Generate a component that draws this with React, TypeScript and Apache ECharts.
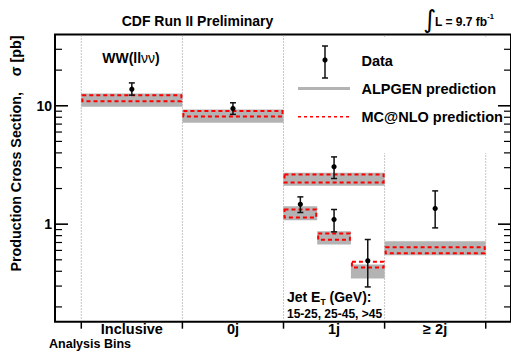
import React, { useEffect, useRef } from "react";
import * as echarts from "echarts";

const FONT = '"Liberation Sans", Arial, Helvetica, sans-serif';

const binNames = ["Inclusive", "0j", "1j", "≥ 2j"];
const binCenters = [0.5, 1.5, 2.5, 3.5];
const binEdges = [0, 1, 2, 3, 4];

// bands: Inclusive, 0j, 1j (all), 1j 15-25, 1j 25-45, 1j >45, >=2j
const bandStart = [0, 1, 2, 2, 2.3333, 2.6667, 3];
const bandEnd = [1, 2, 3, 2.3333, 2.6667, 3, 4];
const alpgenLow = [9.8, 7.18, 2.11, 1.08, 0.673, 0.348, 0.547];
const alpgenHigh = [12.7, 9.32, 2.72, 1.42, 0.873, 0.456, 0.718];
const mcnloLow = [10.7, 7.98, 2.21, 1.117, 0.723, 0.422, 0.558];
const mcnloHigh = [12.5, 9.2, 2.68, 1.357, 0.85, 0.49, 0.652];
const dataValue = [13.8, 9.5, 3.05, 1.47, 1.095, 0.49, 1.357];
const dataLow = [12.3, 8.46, 2.43, 1.255, 0.861, 0.295, 0.93];
const dataHigh = [15.6, 10.6, 3.7, 1.7, 1.33, 0.742, 1.91];

const yMajorTicks = [1, 10];
const yMinorTicks = [0.2, 0.3, 0.4, 0.5, 0.6, 0.7, 0.8, 0.9, 2, 3, 4, 5, 6, 7, 8, 9, 20, 30];
const yMin = 0.15;
const yMax = 40;

export default function App() {
  const ref = useRef<HTMLDivElement>(null);
  useEffect(() => {
    const chart = echarts.init(ref.current!, null, { renderer: "svg" });
    const alpgen = bandStart.map((s, i) => [s, bandEnd[i], alpgenLow[i], alpgenHigh[i]]);
    const mcnlo = bandStart.map((s, i) => [s, bandEnd[i], mcnloLow[i], mcnloHigh[i]]);
    const points = bandStart.map((s, i) => [(s + bandEnd[i]) / 2, dataValue[i], dataLow[i], dataHigh[i]]);
    const yTicks = [
      ...yMajorTicks.map((v) => [0, v, 1]),
      ...yMinorTicks.map((v) => [0, v, 0]),
    ];
    const edges = binEdges.map((b) => [b, 1]);
    const cats = binCenters.map((c, i) => [c, 1, i]);

    const bandRender = (fill: boolean) => (params: any, api: any) => {
      const p1 = api.coord([api.value(0), api.value(3)]);
      const p2 = api.coord([api.value(1), api.value(2)]);
      if (fill) {
        return {
          type: "rect",
          shape: { x: p1[0], y: p1[1], width: p2[0] - p1[0], height: p2[1] - p1[1] },
          style: { fill: "#b3b3b3" },
        };
      }
      return {
        type: "rect",
        shape: { x: p1[0] + 1, y: p1[1] + 1, width: p2[0] - p1[0] - 2, height: p2[1] - p1[1] - 2 },
        style: { fill: "none", stroke: "#ff0000", lineWidth: 2, lineDash: [4, 3] },
      };
    };

    const option: any = {
      animation: false,
      grid: {
        left: 55,
        top: 34.5,
        right: -1,
        bottom: 30.3,
        show: true,
        borderColor: "#000",
        borderWidth: 2,
        backgroundColor: "transparent",
      },
      xAxis: {
        type: "value",
        min: -0.26,
        max: 4.25,
        axisLine: { show: false },
        axisTick: { show: false },
        axisLabel: { show: false },
        splitLine: { show: false },
      },
      yAxis: {
        type: "log",
        logBase: 10,
        min: yMin,
        max: yMax,
        axisLine: { show: false },
        axisTick: { show: false },
        splitLine: { show: false },
        minorTick: { show: false },
        axisLabel: {
          margin: 3,
          fontFamily: FONT,
          fontWeight: "bold",
          fontSize: 14,
          color: "#000",
          showMinLabel: false,
          showMaxLabel: false,
          formatter: (v: number) =>
            Math.abs(v - 1) < 1e-6 ? "1" : Math.abs(v - 10) < 1e-6 ? "10" : "",
        },
      },
      series: [
        {
          type: "custom",
          name: "edges",
          z: 1,
          clip: false,
          silent: true,
          encode: { x: 0, y: 1 },
          data: edges,
          renderItem: (params: any, api: any) => {
            const cs = params.coordSys;
            const x = api.coord([api.value(0), 1])[0];
            const bottom = cs.y + cs.height;
            return {
              type: "group",
              children: [
                {
                  type: "line",
                  shape: { x1: x, y1: cs.y + 1, x2: x, y2: bottom - 1 },
                  style: { stroke: "#8c8c8c", lineWidth: 1, lineDash: [1, 2] },
                },
                {
                  type: "line",
                  shape: { x1: x, y1: bottom, x2: x, y2: bottom + 7 },
                  style: { stroke: "#000", lineWidth: 1.5 },
                },
              ],
            };
          },
        },
        {
          type: "custom",
          name: "ALPGEN prediction",
          z: 2,
          encode: { x: [0, 1], y: [2, 3] },
          data: alpgen,
          renderItem: bandRender(true),
        },
        {
          type: "custom",
          name: "MC@NLO prediction",
          z: 3,
          encode: { x: [0, 1], y: [2, 3] },
          data: mcnlo,
          renderItem: bandRender(false),
        },
        {
          type: "custom",
          name: "Data",
          z: 4,
          encode: { x: 0, y: [1, 2, 3] },
          data: points,
          renderItem: (params: any, api: any) => {
            const c = api.coord([api.value(0), api.value(1)]);
            const lo = api.coord([api.value(0), api.value(2)]);
            const hi = api.coord([api.value(0), api.value(3)]);
            const st = { stroke: "#111", lineWidth: 1.5 };
            return {
              type: "group",
              children: [
                { type: "line", shape: { x1: c[0], y1: hi[1], x2: c[0], y2: lo[1] }, style: st },
                { type: "line", shape: { x1: c[0] - 3, y1: hi[1], x2: c[0] + 3, y2: hi[1] }, style: st },
                { type: "line", shape: { x1: c[0] - 3, y1: lo[1], x2: c[0] + 3, y2: lo[1] }, style: st },
                { type: "circle", shape: { cx: c[0], cy: c[1], r: 2.6 }, style: { fill: "#000" } },
              ],
            };
          },
        },
        {
          type: "custom",
          name: "yticks",
          z: 5,
          clip: false,
          silent: true,
          encode: { x: 0, y: 1 },
          data: yTicks,
          renderItem: (params: any, api: any) => {
            const cs = params.coordSys;
            const y = api.coord([0, api.value(1)])[1];
            const major = api.value(2) === 1;
            const len = major ? 13 : 7;
            const st = { stroke: "#000", lineWidth: major ? 1.6 : 1.2 };
            return {
              type: "group",
              children: [
                { type: "line", shape: { x1: cs.x, y1: y, x2: cs.x + len, y2: y }, style: st },
                { type: "line", shape: { x1: cs.x + cs.width - len, y1: y, x2: cs.x + cs.width, y2: y }, style: st },
              ],
            };
          },
        },
        {
          type: "custom",
          name: "binLabels",
          z: 5,
          clip: false,
          silent: true,
          encode: { x: 0, y: 1 },
          data: cats,
          renderItem: (params: any, api: any) => {
            const cs = params.coordSys;
            const x = api.coord([api.value(0), 1])[0];
            return {
              type: "text",
              x: x,
              y: cs.y + cs.height + 7,
              style: {
                text: binNames[api.value(2)],
                align: "center",
                verticalAlign: "middle",
                fontFamily: FONT,
                fontWeight: "bold",
                fontSize: 14.5,
                fill: "#000",
              },
            };
          },
        },
      ],
      graphic: [
        {
          type: "text",
          x: 197.5,
          y: 21,
          style: {
            text: "CDF Run II Preliminary",
            align: "center",
            verticalAlign: "middle",
            fontFamily: FONT,
            fontWeight: "bold",
            fontSize: 14,
            fill: "#000",
          },
        },
        {
          type: "text",
          x: 429.5,
          y: 19,
          style: {
            text: "∫",
            align: "center",
            verticalAlign: "middle",
            fontFamily: "DejaVu Sans",
            fontSize: 25,
            fill: "#000",
          },
        },
        {
          type: "text",
          x: 435,
          y: 20,
          style: {
            text: "{m|L = 9.7 fb}{s|-1}",
            align: "left",
            verticalAlign: "middle",
            rich: {
              m: { fontFamily: FONT, fontWeight: "bold", fontSize: 12, fill: "#000", lineHeight: 16, verticalAlign: "bottom" },
              s: { fontFamily: FONT, fontWeight: "bold", fontSize: 7.5, fill: "#000", lineHeight: 16, verticalAlign: "top" },
            },
          },
        },
        {
          type: "text",
          x: 131,
          y: 58,
          style: {
            text: "{b|WW(ll}{g|νν}{b|)}",
            align: "center",
            verticalAlign: "middle",
            rich: {
              b: { fontFamily: FONT, fontWeight: "bold", fontSize: 14, fill: "#000" },
              g: { fontFamily: FONT, fontWeight: "normal", fontSize: 14, fill: "#000" },
            },
          },
        },
        {
          type: "text",
          x: 287,
          y: 298,
          style: {
            text: "{b|Jet E}{s|T}{b| (GeV):}",
            align: "left",
            verticalAlign: "middle",
            rich: {
              b: { fontFamily: FONT, fontWeight: "bold", fontSize: 14, fill: "#000", lineHeight: 16, verticalAlign: "top" },
              s: { fontFamily: FONT, fontWeight: "bold", fontSize: 8.5, fill: "#000", lineHeight: 16, verticalAlign: "bottom", padding: [6, 0, 0, 0] },
            },
          },
        },
        {
          type: "text",
          x: 287,
          y: 313.5,
          style: {
            text: "15-25, 25-45, >45",
            align: "left",
            verticalAlign: "middle",
            fontFamily: FONT,
            fontWeight: "bold",
            fontSize: 12,
            fill: "#000",
          },
        },
        {
          type: "text",
          x: 90,
          y: 344,
          style: {
            text: "Analysis Bins",
            align: "center",
            verticalAlign: "middle",
            fontFamily: FONT,
            fontWeight: "bold",
            fontSize: 12.5,
            fill: "#000",
          },
        },
        {
          type: "text",
          x: 16,
          y: 153.5,
          rotation: Math.PI / 2,
          style: {
            text: "Production Cross Section,    σ [pb]",
            align: "center",
            verticalAlign: "middle",
            fontFamily: FONT,
            fontWeight: "bold",
            fontSize: 14.3,
            fill: "#000",
          },
        },
        // legend
        {
          type: "group",
          z: 100,
          children: [
            { type: "rect", shape: { x: 290, y: 37, width: 208, height: 116 }, style: { fill: "#fff" }, z: 100 },
            { type: "line", shape: { x1: 325, y1: 46, x2: 325, y2: 78 }, style: { stroke: "#111", lineWidth: 1.5 }, z: 101 },
            { type: "line", shape: { x1: 322, y1: 46, x2: 328, y2: 46 }, style: { stroke: "#111", lineWidth: 1.5 }, z: 101 },
            { type: "line", shape: { x1: 322, y1: 78, x2: 328, y2: 78 }, style: { stroke: "#111", lineWidth: 1.5 }, z: 101 },
            { type: "circle", shape: { cx: 325, cy: 60, r: 2.6 }, style: { fill: "#000" }, z: 101 },
            { type: "line", shape: { x1: 298, y1: 88.5, x2: 350, y2: 88.5 }, style: { stroke: "#b3b3b3", lineWidth: 3 }, z: 101 },
            { type: "line", shape: { x1: 298, y1: 116.7, x2: 350, y2: 116.7 }, style: { stroke: "#ff0000", lineWidth: 1.5, lineDash: [3, 3] }, z: 101 },
            { type: "text", x: 361.5, y: 61, style: { text: "Data", align: "left", verticalAlign: "middle", fontFamily: FONT, fontWeight: "bold", fontSize: 14.5, fill: "#000" }, z: 101 },
            { type: "text", x: 361.5, y: 88.5, style: { text: "ALPGEN prediction", align: "left", verticalAlign: "middle", fontFamily: FONT, fontWeight: "bold", fontSize: 14.5, fill: "#000" }, z: 101 },
            { type: "text", x: 361.5, y: 117, style: { text: "MC@NLO prediction", align: "left", verticalAlign: "middle", fontFamily: FONT, fontWeight: "bold", fontSize: 14.5, fill: "#000" }, z: 101 },
          ],
        },
      ],
    };
    chart.setOption(option);
    return () => chart.dispose();
  }, []);
  return (
    <div
      ref={ref}
      style={{ position: "fixed", left: 0, top: 0, width: 511, height: 352, background: "#fff" }}
    />
  );
}
